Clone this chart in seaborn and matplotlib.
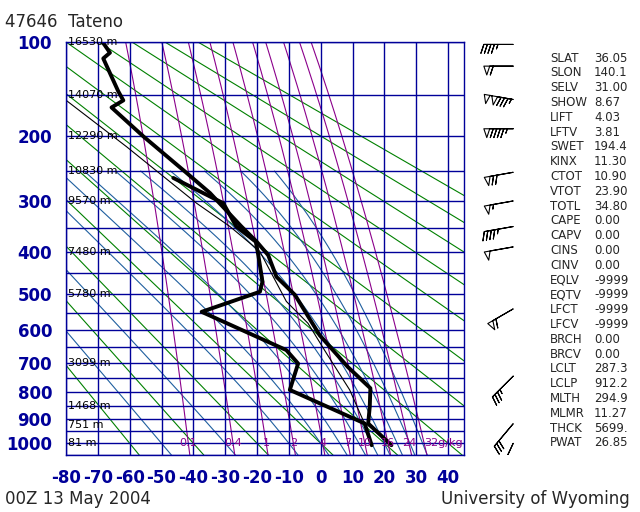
import numpy as np
import pandas as pd
import seaborn as sns
import matplotlib
matplotlib.use("Agg")
import matplotlib.pyplot as plt

# sounding 47646 Tateno, 00Z 13 May 2004
pres_temp = [1008, 919, 855, 787, 714, 615, 503, 458, 408, 379, 348, 286, 251, 200, 164, 156, 146, 114, 109, 100]
temp = [22.2, 14.9, 15.4, 15.6, 8.5, -0.3, -8.1, -13.9, -16.5, -20.1, -24.9, -34.8, -42.6, -55.7, -65.7, -62.0,
        -63.6, -68.3, -66.2, -68.5]
pres_dwpt = [1008, 919, 793, 703, 660, 548, 495, 470, 408, 379, 348, 304, 261]
dwpt = [16.0, 13.8, -9.7, -7.1, -10.8, -37.4, -19.1, -18.3, -19.6, -20.4, -26.5, -30.6, -46.3]
pres_parcel = [1008, 912, 793, 670, 580, 520, 400, 348, 304, 214, 155]
parcel = [22.2, 13.5, 9.1, 1.8, -4.0, -10.8, -19.1, -28.5, -39.0, -61.0, -80.3]

# heights of standard levels
height_pres = [100, 150, 200, 250, 300, 400, 500, 700, 850, 925, 1000]
height_lbl = ["16530 m", "14070 m", "12290 m", "10830 m", "9570 m", "7480 m", "5780 m", "3099 m",
              "1468 m", "751 m", "81 m"]

# winds (pressure, direction deg, speed kt)
wind_pres = [102, 121, 155, 190, 252, 300, 348, 390, 540, 745, 920, 1000]
wind_dir = [270, 270, 280, 270, 260, 260, 260, 260, 240, 225, 220, 205]
wind_spd = [45, 60, 135, 95, 70, 55, 45, 50, 60, 35, 30, 25]

# station indices
idx_names = ["SLAT", "SLON", "SELV", "SHOW", "LIFT", "LFTV", "SWET", "KINX", "CTOT", "VTOT", "TOTL", "CAPE",
             "CAPV", "CINS", "CINV", "EQLV", "EQTV", "LFCT", "LFCV", "BRCH", "BRCV", "LCLT", "LCLP", "MLTH",
             "MLMR", "THCK", "PWAT"]
idx_vals = ["36.05", "140.1", "31.00", "8.67", "4.03", "3.81", "194.4", "11.30", "10.90", "23.90", "34.80",
            "0.00", "0.00", "0.00", "0.00", "-9999", "-9999", "-9999", "-9999", "0.00", "0.00", "287.3",
            "912.2", "294.9", "11.27", "5699.", "26.85"]

# background lines
theta_c = list(range(-60, 200, 20))
thetaw_c = [-50, -30, -10, 0, 6, 12, 16, 20, 24, 28, 32]
mix_ratio = [0.1, 0.4, 1, 2, 4, 7, 10, 16, 24, 32]
mix_lbl = ["0.1", "0.4", "1", "2", "4", "7", "10", "16", "24", "32g/kg"]

NAVY = "#000099"
KAP = 0.286
P = np.arange(1050, 99, -5.0)


def dewpoint_from_w(w, p):
    e = p * w / (622.0 + w)
    a = np.log(e / 6.112)
    return 243.5 * a / (17.67 - a)


def moist_path(t0c, ptop):
    def slope(T, p):
        es = 6.112 * np.exp(17.67 * (T - 273.15) / (T - 29.65))
        rs = 0.622 * es / (p - es)
        return (287.0 * T + 2.5e6 * rs) / (p * (1004.0 + 2.5e6 ** 2 * rs * 0.622 / (287.0 * T ** 2)))
    up = [t0c + 273.15]
    ps = np.arange(1000, ptop - 1, -5.0)
    for i in range(1, len(ps)):
        T = up[-1]
        up.append(T + slope(T, ps[i - 1]) * (ps[i] - ps[i - 1]))
    down = [t0c + 273.15]
    pd_ = np.arange(1000, 1051, 5.0)
    for i in range(1, len(pd_)):
        T = down[-1]
        down.append(T + slope(T, pd_[i - 1]) * (pd_[i] - pd_[i - 1]))
    p_all = np.concatenate([pd_[::-1], ps[1:]])
    t_all = np.concatenate([down[::-1], up[1:]]) - 273.15
    return p_all, t_all


sns.set_style("white")
plt.rcParams["font.family"] = ["DejaVu Sans"]
plt.rcParams["axes.unicode_minus"] = False

fig = plt.figure(figsize=(6.4, 5.12), dpi=100)
ax = fig.add_axes([66 / 640, 1 - 455 / 512, 398 / 640, 413 / 512])
ax.set_yscale("function", functions=(lambda p: np.power(np.clip(p, 1e-6, None), KAP),
                                     lambda q: np.power(np.clip(q, 1e-6, None), 1 / KAP)))

for th in theta_c:
    ax.plot((th + 273.15) * (P / 1000.0) ** KAP - 273.15, P, color="#008000", lw=0.8)
for tw in thetaw_c:
    pp, tt = moist_path(tw, 100 if tw < 0 else 250)
    ax.plot(tt, pp, color="#1f5f9f", lw=0.8)
for w in mix_ratio:
    ax.plot(dewpoint_from_w(w, P), P, color="#8b008b", lw=0.8)
for w, lbl in zip(mix_ratio, mix_lbl):
    ax.text(dewpoint_from_w(w, 1000.0), 1000, lbl, color="#8b008b", fontsize=8,
            ha="left" if lbl.endswith("kg") else "center", va="center")

for t in range(-80, 50, 10):
    ax.axvline(t, color=NAVY, lw=1)
for p in range(100, 1051, 50):
    ax.axhline(p, color=NAVY, lw=1)

df_t = pd.DataFrame({"p": pres_temp, "t": temp})
df_d = pd.DataFrame({"p": pres_dwpt, "t": dwpt})
df_p = pd.DataFrame({"p": pres_parcel, "t": parcel})
sns.lineplot(data=df_p, x="t", y="p", sort=False, estimator=None, color="black", lw=0.8, ax=ax)
sns.lineplot(data=df_d, x="t", y="p", sort=False, estimator=None, color="black", lw=2.8, ax=ax)
sns.lineplot(data=df_t, x="t", y="p", sort=False, estimator=None, color="black", lw=2.8, ax=ax)

for p, lbl in zip(height_pres, height_lbl):
    ax.text(-79.5, p, lbl, fontsize=8, ha="left", va="center", color="black")

ax.set_xlim(-80, 45)
ax.set_ylim(1050, 100)
ax.set_xticks(range(-80, 41, 10))
ax.set_yticks(range(100, 1001, 100))
ax.set_yticks([], minor=True)
ax.set_yticklabels([str(v) for v in range(100, 1001, 100)])
ax.tick_params(length=0, labelsize=12, labelcolor=NAVY, pad=10)
for lab in ax.get_xticklabels() + ax.get_yticklabels():
    lab.set_fontweight("bold")
ax.set_xlabel("")
ax.set_ylabel("")
for s in ax.spines.values():
    s.set_color(NAVY)
    s.set_linewidth(1)

# wind barbs column
bx = fig.add_axes([470 / 640, 1 - 455 / 512, 60 / 640, 413 / 512], sharey=ax)
d = np.deg2rad(wind_dir)
u = -np.array(wind_spd) * np.sin(d)
v = -np.array(wind_spd) * np.cos(d)
bx.barbs(np.full(len(wind_pres), 0.72), wind_pres, u, v, length=6.5, lw=0.8,
         facecolor="white", edgecolor="black",
         sizes=dict(spacing=0.12, height=0.3, width=0.2), flip_barb=True)
bx.set_xlim(0, 1)
bx.axis("off")

for i, (n, val) in enumerate(zip(idx_names, idx_vals)):
    y = 1 - (58 + i * 14.8) / 512
    fig.text(550 / 640, y, n, fontsize=8.5, va="center", ha="left")
    fig.text(594 / 640, y, val, fontsize=8.5, va="center", ha="left")

fig.text(5 / 640, 1 - 22 / 512, "47646  Tateno", fontsize=12, va="center")
fig.text(5 / 640, 1 - 499 / 512, "00Z 13 May 2004", fontsize=12, va="center")
fig.text(630 / 640, 1 - 499 / 512, "University of Wyoming", fontsize=12, va="center", ha="right")

fig.savefig("out.png", dpi=100, facecolor="white")
